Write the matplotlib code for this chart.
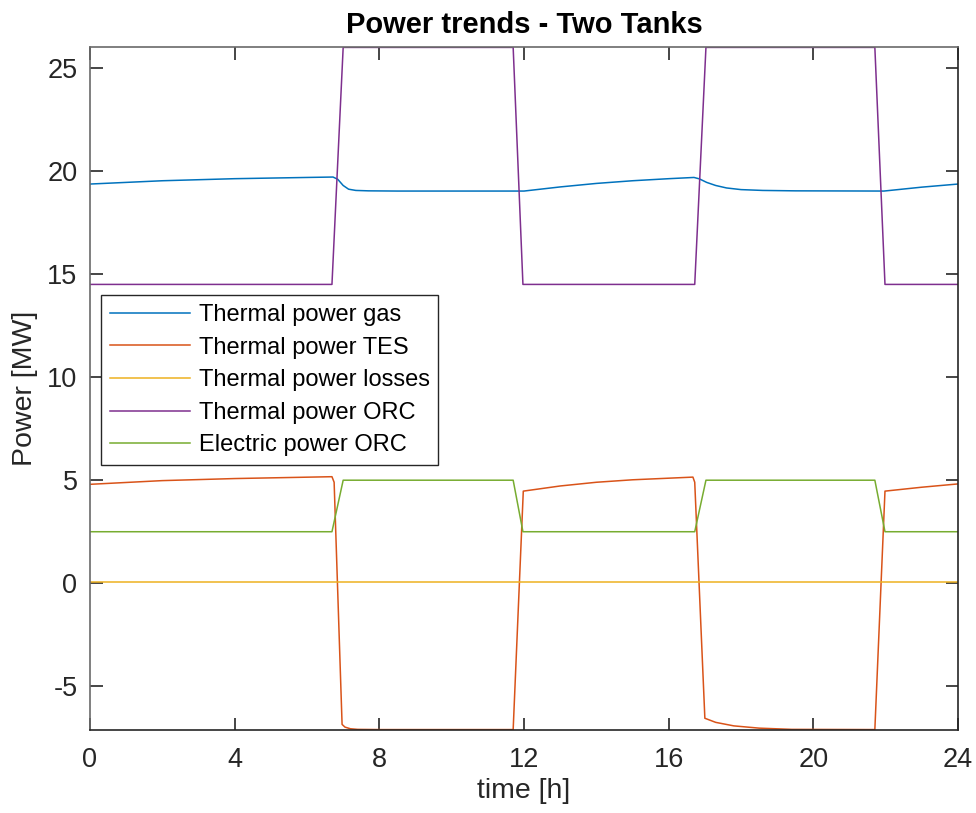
import matplotlib.pyplot as plt

plt.rcParams['font.family'] = ['Liberation Sans', 'DejaVu Sans']

# series (time [h], power [MW])
t_gas = [0, 2, 4, 6, 6.72, 6.85, 7.0, 7.15, 7.35, 7.7, 8.5, 12.0, 13, 14, 15, 16, 16.7,
         16.85, 17.05, 17.3, 17.6, 18.0, 18.6, 19.5, 21.95, 23, 24]
p_gas = [19.37, 19.53, 19.63, 19.69, 19.71, 19.6, 19.3, 19.12, 19.06, 19.04, 19.03, 19.03,
         19.23, 19.4, 19.53, 19.63, 19.69, 19.62, 19.45, 19.3, 19.18, 19.1, 19.06, 19.04,
         19.03, 19.22, 19.37]

t_tes = [0, 2, 4, 6.69, 6.75, 6.97, 7.05, 7.2, 7.4, 8.0, 11.7, 11.98, 13, 14, 15, 16.67,
         16.72, 17.0, 17.3, 17.8, 18.5, 19.4, 21.7, 21.98, 23, 24]
p_tes = [4.8, 4.98, 5.08, 5.17, 4.9, -6.85, -6.98, -7.06, -7.09, -7.1, -7.1, 4.47, 4.72,
         4.9, 5.02, 5.15, 4.9, -6.55, -6.75, -6.92, -7.03, -7.09, -7.1, 4.47, 4.66, 4.82]

t_loss = [0, 24]
p_loss = [0.05, 0.05]

t_orc = [0, 6.69, 7.0, 11.7, 11.97, 16.72, 17.03, 21.7, 21.98, 24]
p_orc = [14.5, 14.5, 26.0, 26.0, 14.5, 14.5, 26.0, 26.0, 14.5, 14.5]

t_el = [0, 6.69, 7.0, 11.7, 11.97, 16.72, 17.03, 21.7, 21.98, 24]
p_el = [2.5, 2.5, 5.0, 5.0, 2.5, 2.5, 5.0, 5.0, 2.5, 2.5]

labels = ['Thermal power gas', 'Thermal power TES', 'Thermal power losses',
          'Thermal power ORC', 'Electric power ORC']
colors = ['#0072BD', '#D95319', '#EDB120', '#7E2F8E', '#77AC30']

fig = plt.figure(figsize=(9.76, 8.13), dpi=100)
ax = fig.add_axes([0.0922, 0.1021, 0.8894, 0.8401])

series = [(t_gas, p_gas), (t_tes, p_tes), (t_loss, p_loss), (t_orc, p_orc), (t_el, p_el)]
for (t, p), lab, c in zip(series, labels, colors):
    ax.plot(t, p, color=c, lw=1.1, label=lab)

ax.set_xlim(0, 24)
ax.set_ylim(-7.12, 26.02)
ax.set_xticks(range(0, 25, 4))
ax.set_yticks([-5, 0, 5, 10, 15, 20, 25])
ax.set_yticklabels(['-5', '0', '5', '10', '15', '20', '25'])

ax.tick_params(direction='in', top=True, right=True, length=9, width=1.2,
               labelsize=19.5, colors='#262626')
ax.tick_params(axis='x', pad=12)
ax.tick_params(axis='y', pad=9)
for s in ax.spines.values():
    s.set_color('#262626')
    s.set_linewidth(1.2)
for side in ('left', 'top'):
    ax.spines[side].set_color('#6a6a6a')

ax.set_xlabel('time [h]', fontsize=20.5, color='#262626', labelpad=4)
ax.set_ylabel('Power [MW]', fontsize=20.5, color='#262626', labelpad=7)
ax.set_title('Power trends - Two Tanks', fontsize=21, fontweight='bold', pad=10)

leg = ax.legend(loc='upper left', bbox_to_anchor=(0.0127, 0.637), borderaxespad=0,
                fontsize=17, fancybox=False, framealpha=1, edgecolor='#262626',
                handlelength=3.4, handletextpad=0.35, labelspacing=0.45,
                borderpad=0.38)
leg.get_frame().set_linewidth(1.0)

fig.savefig('out.png', dpi=100)
